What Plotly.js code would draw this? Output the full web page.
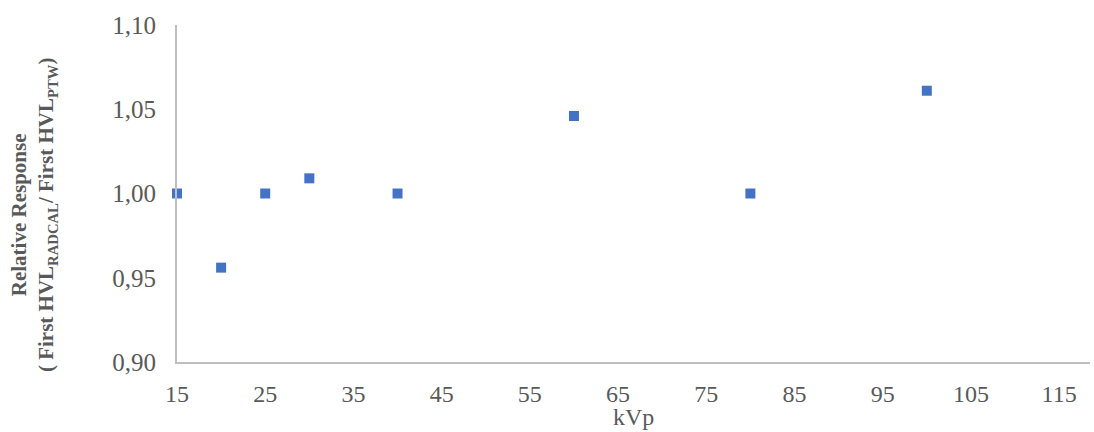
<!DOCTYPE html>
<html>
<head>
<meta charset="utf-8">
<script src="https://cdn.plot.ly/plotly-3.0.1.min.js"></script>
<style>html,body{margin:0;padding:0;background:#fff;}#chart{width:1094px;height:432px;}</style>
</head>
<body>
<div id="chart"></div>
<script>
const kVp = [15, 20, 25, 30, 40, 60, 80, 100];
const relativeResponse = [1.000, 0.956, 1.000, 1.009, 1.000, 1.046, 1.000, 1.061];
const xTicks = [15, 25, 35, 45, 55, 65, 75, 85, 95, 105, 115];
const yTicks = [0.90, 0.95, 1.00, 1.05, 1.10];
const xTitle = 'kVp';
const yTitle = '<b>Relative Response<br>( First HVL<sub>RADCAL</sub>/ First HVL<sub>PTW</sub>)</b>';

const trace = {
  x: kVp, y: relativeResponse, type: 'scatter', mode: 'markers',
  marker: {symbol: 'square', size: 10, color: '#4472C4'},
  hoverinfo: 'skip', cliponaxis: false
};
const layout = {
  width: 1094, height: 432,
  margin: {l: 177, r: 4, t: 25, b: 70},
  paper_bgcolor: '#fff', plot_bgcolor: '#fff',
  separators: ',.',
  showlegend: false,
  font: {family: '"Liberation Serif", "Times New Roman", serif', color: '#595959'},
  xaxis: {
    range: [15, 118.5], tickvals: xTicks, ticktext: xTicks.map(String),
    showgrid: false, zeroline: false, showline: true, linecolor: '#BFBFBF', linewidth: 2,
    ticks: '', ticklen: 0, ticklabelstandoff: 9, tickfont: {size: 24, color: '#595959'}
  },
  yaxis: {
    range: [0.90, 1.10], tickvals: yTicks, tickformat: '.2f',
    showgrid: false, zeroline: false, showline: true, linecolor: '#BFBFBF', linewidth: 2,
    ticks: '', ticklen: 0, ticklabelstandoff: 14, tickfont: {size: 25, color: '#595959'}
  },
  annotations: [
    {text: xTitle, xref: 'paper', yref: 'paper', x: 0.5, y: -0.163,
     xanchor: 'center', yanchor: 'middle', showarrow: false,
     font: {size: 24, color: '#595959'}},
    {text: yTitle, xref: 'paper', yref: 'paper', x: -0.1566, y: 0.436,
     xanchor: 'center', yanchor: 'middle', showarrow: false, textangle: -90,
     font: {size: 21, color: '#595959'}}
  ]
};
Plotly.newPlot('chart', [trace], layout, {displayModeBar: false, staticPlot: true});
</script>
</body>
</html>
